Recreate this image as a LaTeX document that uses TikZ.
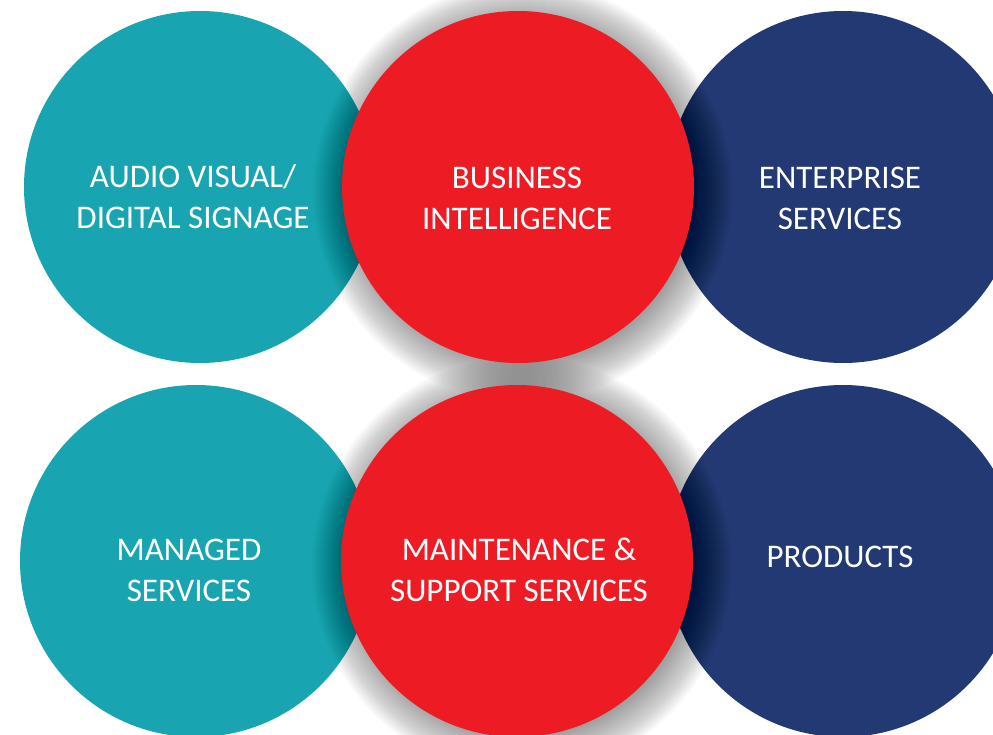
\documentclass[tikz,border=0pt]{standalone}
\usepackage{fontspec}
\setmainfont{Carlito}
\usetikzlibrary{calc}

\definecolor{svteal}{RGB}{24,165,177}
\definecolor{svred}{RGB}{237,28,36}
\definecolor{svnavy}{RGB}{35,57,116}

\begin{document}
\begin{tikzpicture}[x=1pt,y=-1pt,
        disc/.style={circle,minimum size=352pt,inner sep=0pt},
        lbl/.style={text=white,align=center,font=\fontsize{33}{41}\selectfont}]
        \useasboundingbox (0,0) rectangle (993,735);
        \clip (0,0) rectangle (993,735);
        % outer columns
        \node [disc,fill=svteal] (av) at (200,187) {};
        \node [disc,fill=svnavy] (es) at (843,187) {};
        \node [disc,fill=svteal] (ms) at (196,561) {};
        \node [disc,fill=svnavy] (pr) at (843,561) {};
        % middle column with soft shadow
        \coordinate (bic) at (518,187);
        \coordinate (mssc) at (517,561);
        \foreach \c in {bic,mssc}{
            \foreach \r in {150,...,210}
                \fill [black,opacity=0.01] ($(\c)+(5,5)$) circle (\r pt);
        }
        \node [disc,fill=svred] (bi) at (bic) {};
        \node [disc,fill=svred] (mss) at (mssc) {};
        % labels
        \node [lbl] (avt) at (193,197) {AUDIO VISUAL/\\DIGITAL SIGNAGE};
        \node [lbl] (bit) at (517,198) {BUSINESS\\INTELLIGENCE};
        \node [lbl] (est) at (840,198) {ENTERPRISE\\SERVICES};
        \node [lbl] (mst) at (189,570) {MANAGED\\SERVICES};
        \node [lbl] (msst) at (519,570) {MAINTENANCE \&\\SUPPORT SERVICES};
        \node [lbl] (prt) at (840,557) {PRODUCTS};
\end{tikzpicture}
\end{document}
